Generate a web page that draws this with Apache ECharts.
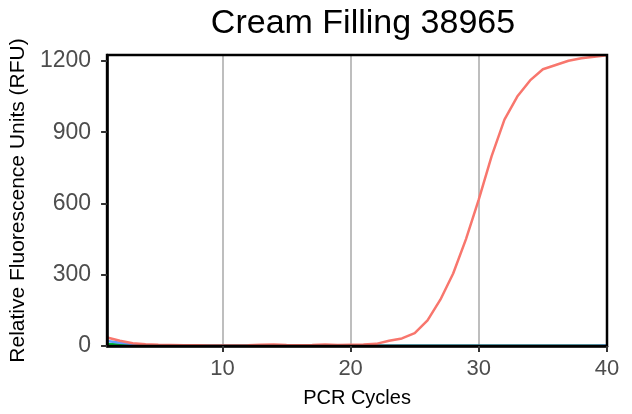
<!DOCTYPE html>
<html>
<head>
<meta charset="utf-8">
<script src="https://cdn.jsdelivr.net/npm/echarts@6/dist/echarts.min.js"></script>
<style>
  html, body { margin: 0; padding: 0; background: #fff; }
  #chart { width: 632px; height: 414px; }
</style>
</head>
<body>
<div id="chart"></div>
<script>
// PCR cycles 1..40
var cycles = [];
for (var c = 1; c <= 40; c++) cycles.push(c);

// RFU values
var redValues = [36, 22, 12, 7, 5, 4, 3, 3, 2, 2, 2, 3, 5, 6, 4, 3, 4, 6, 4, 5,
  6, 9, 22, 32, 54, 108, 195, 305, 450, 617, 799, 953, 1050, 1118, 1165, 1183, 1201, 1211, 1218, 1224];
var blueValues = [21, 14, 8, 4, 3, 2, 2, 1, 1, 1, 1, 1, 1, 1, 1, 1, 1, 1, 1, 1,
  1, 1, 1, 1, 1, 1, 1, 1, 1, 1, 1, 1, 1, 1, 1, 1, 1, 1, 1, 2];
var greenValues = [8, 6, 4, 3, 2, 2, 1, 1, 1, 1, 1, 1, 1, 1, 1, 1, 1, 1, 1, 1,
  1, 1, 1, 1, 1, 1, 1, 1, 1, 1, 1, 1, 1, 1, 1, 1, 1, 1, 1, 1];

var xTicks = [10, 20, 30, 40];
var yTicks = [0, 300, 600, 900, 1200];

function pairs(vals) {
  var out = [];
  for (var i = 0; i < vals.length; i++) out.push([cycles[i], vals[i]]);
  return out;
}

var chart = echarts.init(document.getElementById('chart'));

// vertical grey grid lines at the x ticks (kept under the curves and the border)
var gridLines = {
  silent: true,
  z: 1,
  symbol: ['none', 'none'],
  label: { show: false },
  lineStyle: { color: '#bebebe', width: 2, type: 'solid' },
  data: xTicks.map(function (v) { return { xAxis: v }; })
};

var font = 'Liberation Sans';

var option = {
  animation: false,
  backgroundColor: '#fff',
  title: {
    text: 'Cream Filling 38965',
    left: 358,
    textAlign: 'center',
    top: 2,
    textStyle: { fontFamily: font, fontSize: 34, fontWeight: 'normal', color: '#000' }
  },
  grid: {
    left: 107, right: 25, top: 55, bottom: 68, z: 6,
    show: true, borderColor: '#000', borderWidth: 2.5, backgroundColor: 'transparent'
  },
  xAxis: {
    type: 'value',
    min: 1,
    max: 40,
    z: 10,
    name: 'PCR Cycles',
    nameLocation: 'middle',
    nameGap: 42,
    nameTextStyle: { fontFamily: font, fontSize: 20, color: '#000' },
    axisLine: { show: true, onZero: false, lineStyle: { color: '#000', width: 2.5 } },
    axisTick: { show: true, customValues: xTicks, length: 6, lineStyle: { color: '#333', width: 2 } },
    axisLabel: { customValues: xTicks, margin: 12, fontFamily: font, fontSize: 22, color: '#4d4d4d' },
    splitLine: { show: false }
  },
  yAxis: {
    type: 'value',
    min: 0,
    max: 1225,
    z: 10,
    name: 'Relative Fluorescence Units (RFU)',
    nameLocation: 'middle',
    nameGap: 75,
    nameTextStyle: { fontFamily: font, fontSize: 21, color: '#000' },
    axisLine: { show: true, lineStyle: { color: '#000', width: 2.5 } },
    axisTick: { show: true, customValues: yTicks, length: 6, lineStyle: { color: '#333', width: 2 } },
    axisLabel: {
      customValues: yTicks, margin: 16, fontFamily: font, fontSize: 23, color: '#4d4d4d',
      formatter: function (v) { return String(v); }
    },
    splitLine: { show: false }
  },
  series: [
    {
      name: 'green', type: 'line', data: pairs(greenValues), showSymbol: false,
      lineStyle: { color: '#00BA38', width: 2.5 }, itemStyle: { color: '#00BA38' },
      markLine: gridLines, z: 2
    },
    {
      name: 'blue', type: 'line', data: pairs(blueValues), showSymbol: false,
      lineStyle: { color: '#619CFF', width: 2.5 }, itemStyle: { color: '#619CFF' }, z: 3
    },
    {
      name: 'red', type: 'line', data: pairs(redValues), showSymbol: false,
      lineStyle: { color: '#F8766D', width: 2.5 }, itemStyle: { color: '#F8766D' }, z: 4
    }
  ]
};

chart.setOption(option);
</script>
</body>
</html>
